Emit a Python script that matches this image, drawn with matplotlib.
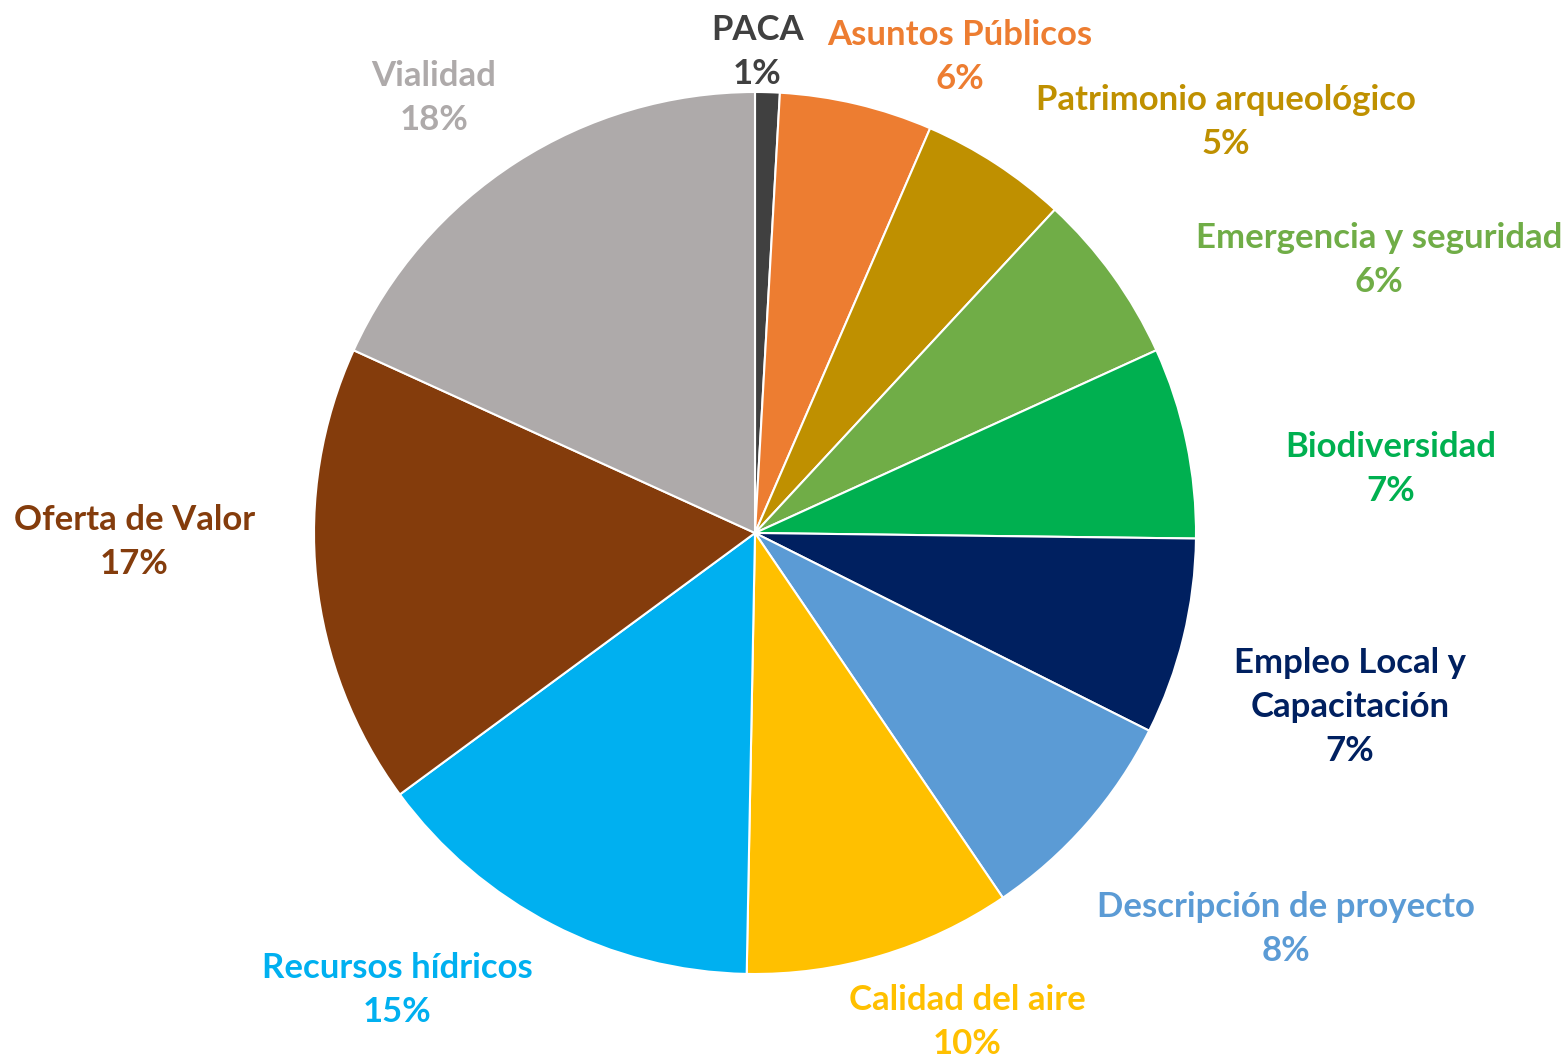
import numpy as np
import matplotlib.pyplot as plt

categories = ["PACA", "Asuntos Públicos", "Patrimonio arqueológico",
              "Emergencia y seguridad", "Biodiversidad",
              "Empleo Local y\nCapacitación", "Descripción de proyecto",
              "Calidad del aire", "Recursos hídricos", "Oferta de Valor",
              "Vialidad"]
values = [0.9, 5.6, 5.4, 6.3, 7.0, 7.2, 8.1, 9.8, 14.6, 16.9, 18.2]
colors = ["#404040", "#ED7D31", "#BF9000", "#70AD47", "#00B050", "#002060",
          "#5B9BD5", "#FFC000", "#00B0F0", "#843C0C", "#AEAAAA"]

# label centres, in units of the pie radius (Excel "best fit" layout)
label_xy = [(0.005, 1.09), (0.465, 1.08), (1.068, 0.932), (1.415, 0.619),
            (1.442, 0.145), (1.349, -0.395), (1.204, -0.898), (0.481, -1.109),
            (-0.812, -1.036), (-1.408, -0.020), (-0.728, 0.986)]

W, H = 1567, 1061
R = 441.0
cx, cy = 755, 533

fig = plt.figure(figsize=(W / 100, H / 100), dpi=100)
ax = fig.add_axes([0, 0, 1, 1])

total = sum(values)
wedges, _ = ax.pie(values, colors=colors, startangle=90, counterclock=False,
                   radius=1.0, wedgeprops=dict(edgecolor="white", linewidth=1.5))

for name, v, c, (lx, ly) in zip(categories, values, colors, label_xy):
    ax.text(lx, ly, f"{name}\n{round(100 * v / total):d}%", color=c,
            ha="center", va="center", fontsize=25, fontweight="bold",
            family=["Lato", "DejaVu Sans"], linespacing=1.45)

ax.set_xlim(-cx / R, (W - cx) / R)
ax.set_ylim(-(H - cy) / R, cy / R)
ax.set_aspect("equal")
ax.axis("off")

fig.savefig("out.png", dpi=100)
